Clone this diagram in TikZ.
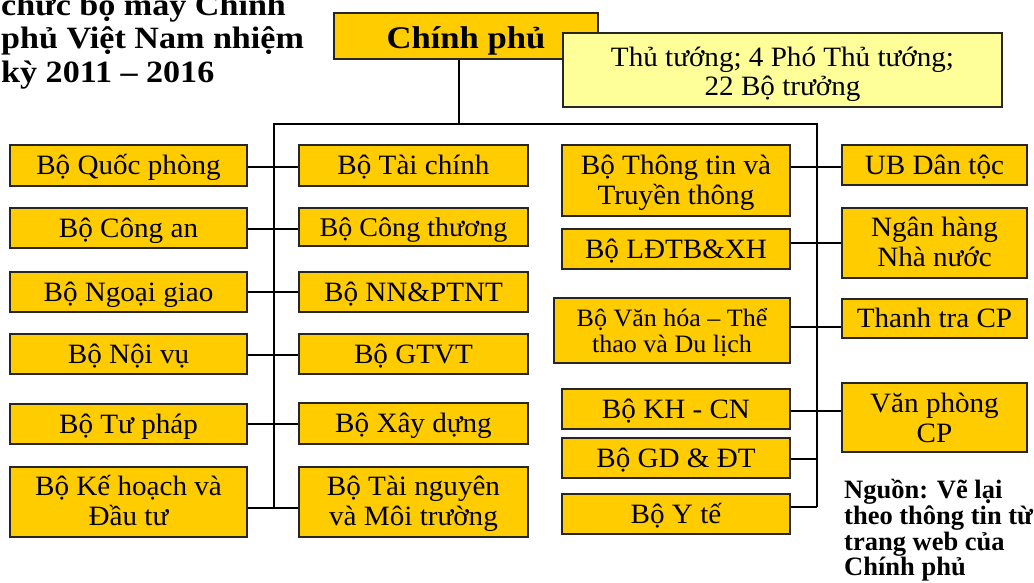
\documentclass[tikz,border=0pt]{standalone}
\usepackage{fontspec}
\setmainfont{Liberation Serif}
\newfontfamily\tnr[FakeStretch=1.04]{Liberation Serif}
\newfontfamily\tnrb[FakeStretch=1.1]{Liberation Serif}
\newfontfamily\tnrplain{Liberation Serif}
\definecolor{gold}{HTML}{FFCC00}
\definecolor{lightyel}{HTML}{FFFF99}
% two centred lines with a fixed distance between their baselines
\newcommand\twoln[3]{\vbox{\baselineskip=#1\lineskiplimit=-100pt\lineskip=0pt
  \halign{\hfil##\hfil\cr #2\cr #3\cr}}}
\begin{document}
\begin{tikzpicture}[x=1pt,y=-1pt,
  box/.style={draw=black!85, fill=gold, line width=1.3pt, inner sep=0pt,
    text height=21pt, text depth=3pt,
    font=\tnr\fontsize{28}{30}\selectfont},
  dbl/.style={text height=#1, text depth=4pt},
  colA/.style={box, minimum width=237},
  colB/.style={box, minimum width=229},
  colC/.style={box, minimum width=228},
  colD/.style={box, minimum width=185},
  conn/.style={line width=2.6pt, black},
  titlef/.style={inner sep=0pt, anchor=base west, font=\tnrb\bfseries\fontsize{31}{33}\selectfont},
  notef/.style={inner sep=0pt, anchor=base west, font=\tnrplain\bfseries\fontsize{26.5}{27}\selectfont}
]
\useasboundingbox (0,0) rectangle (1034,582);
\clip (0,0) rectangle (1034,582);

% title
\node[titlef] (t1) at (1,15) {chức bộ máy Chính};
\node[titlef] (t2) at (1,48) {phủ Việt Nam nhiệm};
\node[titlef] (t3) at (1,82) {kỳ 2011 – 2016};

% top
\node[box, minimum width=264, minimum height=46, text height=27pt, text depth=3pt,
  font=\tnrb\bfseries\fontsize{31.5}{33}\selectfont] (cp) at (466,36) {Chính phủ};
\node[box, fill=lightyel, minimum width=439, minimum height=74, dbl=54pt,
  font=\tnr\fontsize{28}{31}\selectfont] (tt0) at (782.5,70)
  {\twoln{29pt}{Thủ tướng; 4 Phó Thủ tướng;}{22 Bộ trưởng}};

% column A
\node[colA, minimum height=41] (qp) at (128.5,165.5) {Bộ Quốc phòng};
\node[colA, minimum height=40] (ca) at (128.5,228) {Bộ Công an};
\node[colA, minimum height=40] (ng) at (128.5,292) {Bộ Ngoại giao};
\node[colA, minimum height=40] (nv) at (128.5,354) {Bộ Nội vụ};
\node[colA, minimum height=40] (tp) at (128.5,424) {Bộ Tư pháp};
\node[colA, minimum height=70, dbl=50pt] (kh) at (128.5,502) {\twoln{30pt}{Bộ Kế hoạch và}{Đầu tư}};

% column B
\node[colB, minimum height=41] (tc) at (413.5,165.5) {Bộ Tài chính};
\node[colB, minimum height=38, font=\tnr\fontsize{27}{30}\selectfont] (ct) at (413.5,227) {Bộ Công thương};
\node[colB, minimum height=40] (nn) at (413.5,292) {Bộ NN\&PTNT};
\node[colB, minimum height=40] (gt) at (413.5,354) {Bộ GTVT};
\node[colB, minimum height=41] (xd) at (413.5,423.5) {Bộ Xây dựng};
\node[colB, minimum height=70, dbl=50pt] (tn) at (413.5,502) {\twoln{30pt}{Bộ Tài nguyên}{và Môi trường}};

% column C
\node[colC, minimum height=71, dbl=51pt] (ttt) at (676,180.5) {\twoln{30pt}{Bộ Thông tin và}{Truyền thông}};
\node[colC, minimum height=40] (ld) at (676,249) {Bộ LĐTB\&XH};
\node[box, minimum width=236, minimum height=65, dbl=48pt, font=\tnr\fontsize{25}{27}\selectfont] (vh) at (672,330.5)
  {\twoln{26pt}{Bộ Văn hóa – Thể}{thao và Du lịch}};
\node[colC, minimum height=40] (kc) at (676,409) {Bộ KH - CN};
\node[colC, minimum height=40] (gd) at (676,458) {Bộ GD \& ĐT};
\node[colC, minimum height=40] (yt) at (676,514) {Bộ Y tế};

% column D
\node[colD, minimum height=40] (ub) at (934.5,165) {UB Dân tộc};
\node[colD, minimum height=70, dbl=51pt] (nh) at (934.5,243) {\twoln{30pt}{Ngân hàng}{Nhà nước}};
\node[colD, minimum height=39] (ttr) at (934.5,318.5) {Thanh tra CP};
\node[colD, minimum height=69, dbl=53pt] (vp) at (934.5,417.5) {\twoln{30pt}{Văn phòng}{CP}};

% note
\node[notef] (n1) at (844,498) {Nguồn: Vẽ lại};
\node[notef] (n2) at (844,524) {theo thông tin từ};
\node[notef] (n3) at (844,550) {trang web của};
\node[notef] (n4) at (844,575) {Chính phủ};

% connectors
\coordinate (hub) at (459,124);
\coordinate (jl) at (274,124);
\coordinate (jr) at (817,124);
\coordinate (lb) at (274,508);
\coordinate (rb) at (817,507);
\draw[conn] (cp.south -| hub) -- (hub);
\draw[conn] (lb) -- (jl) -- (jr) -- (rb);

\draw[conn] (qp.east |- 0,167) -- (tc.west |- 0,167);
\draw[conn] (ca.east |- 0,229) -- (ct.west |- 0,229);
\draw[conn] (ng.east |- 0,292) -- (nn.west |- 0,292);
\draw[conn] (nv.east |- 0,355) -- (gt.west |- 0,355);
\draw[conn] (tp.east |- 0,424) -- (xd.west |- 0,424);
\draw[conn] (kh.east |- lb) -- (tn.west |- lb);

\draw[conn] (ttt.east |- 0,167) -- (ub.west |- 0,167);
\draw[conn] (ld.east |- 0,243) -- (nh.west |- 0,243);
\draw[conn] (vh.east |- 0,327) -- (ttr.west |- 0,327);
\draw[conn] (kc.east |- 0,411) -- (vp.west |- 0,411);
\draw[conn] (gd.east |- 0,459) -- (rb |- 0,459);
\draw[conn] (yt.east |- rb) -- (rb);
\end{tikzpicture}
\end{document}
